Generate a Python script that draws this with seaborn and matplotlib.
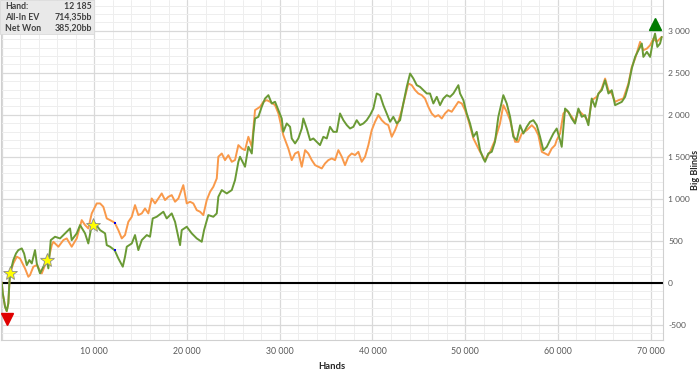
import numpy as np
import pandas as pd
import matplotlib
matplotlib.use("Agg")
import matplotlib.pyplot as plt
import matplotlib.transforms as mtransforms
from matplotlib.patches import Rectangle
from matplotlib.ticker import MultipleLocator, FuncFormatter
import seaborn as sns

# --- data (hands in thousands, results in big blinds) ---
won_hands_k = [0, 0.11, 0.36, 0.54, 0.71, 0.82, 0.90, 1.25, 1.54, 1.79, 2.16, 2.41, 2.70, 2.98,
               3.24, 3.59, 3.78, 4.13, 4.49, 4.86, 5.03, 5.29, 5.75, 6.29, 6.83, 7.37, 7.55, 8.09,
               8.45, 8.99, 9.34, 9.71, 10.07, 10.61, 11.15, 11.33, 11.69, 12.185, 12.58, 13.06,
               13.30, 13.49, 14.03, 14.38, 14.74, 15.11, 15.65, 16.00, 16.29, 16.72, 17.44, 17.80,
               18.34, 18.70, 19.24, 19.42, 19.96, 20.50, 21.04, 21.58, 21.83, 22.29, 22.83, 23.20,
               23.37, 23.74, 24.28, 24.82, 25.17, 25.53, 25.71, 26.25, 26.61, 26.98, 27.15, 27.33,
               27.69, 28.05, 28.41, 28.77, 29.13, 29.49, 29.85, 30.21, 30.38, 30.75, 31.11, 31.29,
               31.65, 32.00, 32.37, 32.54, 32.91, 33.27, 33.62, 33.99, 34.34, 34.70, 35.07, 35.42,
               35.78, 36.15, 36.50, 36.86, 37.23, 37.58, 37.94, 38.30, 38.66, 39.02, 39.38, 39.74,
               40.10, 40.46, 40.82, 41.17, 41.54, 41.90, 42.25, 42.62, 42.98, 43.33, 43.70, 44.06,
               44.41, 44.78, 45.13, 45.49, 45.86, 46.21, 46.57, 46.94, 47.29, 47.65, 48.02, 48.37,
               48.73, 49.27, 49.45, 49.81, 50.17, 50.53, 50.89, 51.25, 51.61, 51.96, 52.15, 52.50,
               52.87, 53.22, 53.58, 54.12, 54.49, 54.85, 55.20, 55.57, 55.93, 56.28, 56.65, 57.00,
               57.36, 57.73, 58.08, 58.44, 58.81, 59.16, 59.52, 59.88, 60.24, 60.42, 60.78, 61.14,
               61.50, 61.86, 62.22, 62.58, 62.94, 63.30, 63.66, 64.02, 64.38, 64.74, 65.10, 65.46,
               65.82, 66.18, 66.54, 66.90, 67.26, 67.62, 67.98, 68.34, 68.70, 69.06, 69.23, 69.61,
               69.96, 70.25, 70.49, 70.74, 71.03, 71.21]
won_bb = [0, -129, -288, -340, -248, -10, 109, 268, 347, 387, 407, 347, 208, 268,
          228, 387, 228, 109, 189, 268, 169, 506, 546, 526, 586, 645, 506, 586,
          685, 586, 466, 685, 705, 625, 586, 446, 427, 385, 288, 189,
          308, 427, 466, 566, 387, 506, 566, 546, 764, 784, 844, 764,
          824, 724, 446, 625, 665, 586, 526, 486, 625, 804, 784, 824,
          1022, 1102, 1062, 1102, 1220, 1439, 1499, 1380, 1618, 1538, 1777, 1955,
          1975, 2094, 2193, 2233, 2134, 2154, 2055, 1955, 1796, 1896, 1856, 1717,
          1658, 1717, 1836, 1955, 1836, 1697, 1717, 1677, 1638, 1737, 1717, 1856,
          1796, 1796, 2015, 1935, 1876, 1836, 1856, 1935, 1876, 1896, 1935, 1995,
          2074, 2253, 2233, 2114, 2015, 1916, 1975, 1896, 1935, 2134, 2332, 2491,
          2432, 2352, 2332, 2293, 2253, 2253, 2134, 2213, 2114, 2193, 2233, 2213,
          2253, 2352, 2253, 2174, 2015, 1895, 1737, 1796, 1578, 1478, 1439, 1538,
          1558, 1677, 1975, 2233, 2133, 1975, 1737, 1697, 1875, 1776, 1856, 1915,
          1935, 1875, 1737, 1578, 1617, 1697, 1776, 1836, 1697, 1617, 2074, 2034,
          1955, 1895, 2074, 1975, 1995, 1875, 2193, 2094, 2253, 2292, 2411, 2253,
          2292, 2114, 2133, 2153, 2213, 2352, 2550, 2689, 2769, 2848, 2689, 2749,
          2689, 2868, 2967, 2808, 2848, 2927]

ev_hands_k = [0, 0.11, 0.36, 0.54, 0.71, 0.82, 0.90, 1.25, 1.62, 1.97, 2.51, 2.87, 3.05, 3.41,
              3.78, 4.32, 4.67, 5.03, 5.40, 5.57, 6.11, 6.65, 7.01, 7.55, 8.09, 8.63, 8.99, 9.34,
              9.71, 10.25, 10.61, 10.96, 11.33, 11.69, 12.185, 12.58, 12.95, 13.30, 13.66, 14.03,
              14.38, 14.74, 15.11, 15.46, 15.82, 16.18, 16.54, 16.90, 17.26, 17.62, 17.98, 18.34,
              18.70, 19.06, 19.59, 19.96, 20.32, 20.67, 21.04, 21.40, 21.75, 22.12, 22.48, 22.83,
              23.20, 23.37, 23.74, 24.09, 24.45, 24.82, 25.17, 25.53, 25.90, 26.25, 26.61, 26.98,
              27.33, 27.87, 28.23, 28.59, 28.95, 29.49, 29.85, 30.38, 30.92, 31.29, 31.65, 32.00,
              32.37, 32.73, 33.08, 33.45, 33.81, 34.16, 34.53, 34.88, 35.24, 35.61, 35.96, 36.32,
              36.69, 37.04, 37.40, 37.76, 38.12, 38.48, 38.84, 39.20, 39.56, 39.92, 40.28, 40.64,
              41.00, 41.36, 41.71, 42.08, 42.44, 42.79, 43.16, 43.52, 43.87, 44.24, 44.60, 44.95,
              45.32, 45.67, 46.03, 46.39, 46.75, 47.11, 47.48, 47.83, 48.19, 48.55, 48.91, 49.27,
              49.64, 49.99, 50.35, 50.89, 51.61, 52.15, 52.69, 53.22, 53.76, 54.12, 54.49, 54.85,
              55.39, 55.74, 56.11, 56.65, 57.19, 57.54, 57.90, 58.27, 58.62, 58.98, 59.34, 59.70,
              59.88, 60.24, 60.60, 60.96, 61.50, 61.86, 62.22, 62.94, 63.30, 63.66, 64.20, 64.74,
              65.10, 65.46, 65.82, 66.18, 66.54, 67.07, 67.62, 67.98, 68.34, 68.88, 69.23, 69.61,
              69.96, 70.32, 70.67, 71.03, 71.21]
ev_bb = [0, -129, -288, -340, -248, -10, 109, 228, 308, 288, 169, 69, 89, 189,
         208, 109, 208, 268, 447, 486, 427, 506, 526, 427, 526, 744, 685, 645,
         824, 943, 943, 903, 764, 744, 714, 625, 526, 566, 724, 784,
         923, 804, 824, 883, 824, 1002, 943, 1002, 1062, 983, 1022, 1042,
         963, 1002, 1161, 943, 963, 943, 863, 844, 804, 983, 1082, 1141,
         1241, 1499, 1538, 1459, 1518, 1439, 1460, 1638, 1598, 1578, 1737, 1618,
         2055, 2094, 2154, 2174, 2154, 2114, 2015, 1757, 1598, 1459, 1538, 1558,
         1380, 1578, 1538, 1459, 1399, 1380, 1360, 1419, 1459, 1479, 1459, 1578,
         1499, 1399, 1499, 1538, 1519, 1558, 1439, 1499, 1638, 1816, 1916, 1995,
         1935, 1896, 1876, 1737, 1816, 1916, 2055, 2213, 2372, 2352, 2293, 2253,
         2233, 2193, 2094, 2015, 1975, 1995, 1955, 2015, 2055, 2035, 2094, 2154,
         2134, 2055, 1935, 1717, 1558, 1458, 1558, 1697, 1895, 2114, 2034, 1935,
         1677, 1677, 1776, 1816, 1875, 1836, 1756, 1558, 1538, 1518, 1597, 1637,
         1697, 1776, 2014, 2054, 1975, 1915, 2054, 1975, 1915, 2173, 2213, 2312,
         2431, 2292, 2253, 2153, 2173, 2193, 2372, 2570, 2669, 2868, 2769, 2788,
         2828, 2908, 2868, 2908, 2927]

series_names = ["All-In EV", "Net Won"]
series_colors = ["#F9994A", "#6A9A35"]

star_hands_k = [0.90, 4.86, 9.88]
star_bb = [109, 268, 685]

sel_hand = 12185
sel_ev = 714.35
sel_won = 385.20


def thousands(v):
    return f"{int(round(v)):,}".replace(",", " ")


def comma_dec(v):
    return f"{v:.2f}".replace(".", ",")


df = pd.concat([
    pd.DataFrame({"hands": np.array(ev_hands_k) * 1000, "bb": ev_bb, "series": series_names[0]}),
    pd.DataFrame({"hands": np.array(won_hands_k) * 1000, "bb": won_bb, "series": series_names[1]}),
], ignore_index=True)

sns.set_theme(style="white")
plt.rcParams["font.family"] = ["Lato", "DejaVu Sans"]

fig = plt.figure(figsize=(7, 3.77), dpi=100)
ax = fig.add_axes([0.0015, 0.098, 0.945, 0.902])

# grid
ax.xaxis.set_major_locator(MultipleLocator(10000))
ax.xaxis.set_minor_locator(MultipleLocator(2000))
ax.yaxis.set_major_locator(MultipleLocator(500))
ax.yaxis.set_minor_locator(MultipleLocator(100))
ax.grid(which="major", color="#D9D9D9", lw=0.9, zorder=0)
ax.grid(which="minor", color="#EEEEEE", lw=0.7, zorder=0)
ax.set_axisbelow(True)

ax.axhline(0, color="black", lw=1.5, zorder=1)

sns.lineplot(data=df, x="hands", y="bb", hue="series", hue_order=series_names,
             palette=series_colors, estimator=None, sort=False, lw=1.4,
             legend=False, ax=ax, zorder=2)

won_arr = np.array(won_bb)
wx = np.array(won_hands_k) * 1000
i_min, i_max = won_arr.argmin(), won_arr.argmax()
down = mtransforms.offset_copy(ax.transData, fig=fig, y=-6, units="points")
up = mtransforms.offset_copy(ax.transData, fig=fig, y=7, units="points")
ax.plot(wx[i_min], won_arr[i_min], marker="v", color="#E00000", ms=9, transform=down, zorder=5)
ax.plot(wx[i_max], won_arr[i_max], marker="^", color="#007A00", ms=9, transform=up, zorder=5)

ax.plot(np.array(star_hands_k) * 1000, star_bb, ls="none", marker="*", ms=10,
        mfc="#FFFF00", mec="#8C8C8C", mew=0.6, zorder=6)
ax.plot([sel_hand, sel_hand], [sel_ev, sel_won], ls="none", marker="s", ms=2.0,
        mew=0, color="#0000EE", zorder=6)

ax.set_xlim(-75, 71300)
ax.set_ylim(-685, 3367)

ax.yaxis.tick_right()
ax.xaxis.set_major_formatter(FuncFormatter(lambda v, p: "" if v <= 0 else thousands(v)))
ax.yaxis.set_major_formatter(FuncFormatter(lambda v, p: thousands(v)))
ax.tick_params(axis="x", which="major", labelsize=6.3, colors="#595959", length=0, pad=5)
ax.tick_params(axis="y", which="major", labelsize=6.1, colors="#595959", length=0, pad=4)
ax.tick_params(axis="both", which="minor", length=0)
for lab in ax.get_yticklabels():
    lab.set_horizontalalignment("left")

ax.set_xlabel("Hands", fontsize=6.8, fontweight="bold", color="#262626", labelpad=4)
ax.set_ylabel("Big Blinds", fontsize=6.5, fontweight="bold", color="#262626",
              rotation=90, va="center", ha="center")
ax.yaxis.set_label_coords(1.0505, 0.5)

ax.spines["top"].set_visible(False)
for s in ["left", "right", "bottom"]:
    ax.spines[s].set_color("#D0D0D0")
    ax.spines[s].set_linewidth(0.8)

# info box in the upper-left corner
W, H = 700, 377
fig.add_artist(Rectangle((0 / W, 1 - 34 / H), 94 / W, 34 / H, transform=fig.transFigure,
                         facecolor="#E9E9E9", edgecolor="#DADADA", lw=0.6, zorder=10))
rows = [("Hand:", thousands(sel_hand)),
        ("All-In EV", comma_dec(sel_ev) + "bb"),
        ("Net Won", comma_dec(sel_won) + "bb")]
for k, (lab, val) in enumerate(rows):
    yy = 1 - (6.5 + 11 * k) / H
    fig.text(5 / W, yy, lab, fontsize=6.3, fontweight="bold", color="#404040",
             va="center", ha="left", zorder=11)
    fig.text(92 / W, yy, val, fontsize=6.3, fontweight="bold", color="#404040",
             va="center", ha="right", zorder=11)

fig.savefig("out.png", dpi=100)
